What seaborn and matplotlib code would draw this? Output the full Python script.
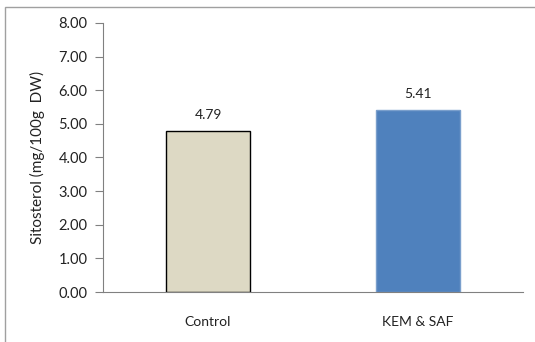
import matplotlib
matplotlib.use("Agg")
import matplotlib.pyplot as plt
import seaborn as sns
import pandas as pd
from matplotlib.patches import Rectangle

categories = ["Control", "KEM & SAF"]
values = [4.79, 5.41]
value_labels = ["4.79", "5.41"]
yticks = [0, 1, 2, 3, 4, 5, 6, 7, 8]
ytick_labels = ["0.00", "1.00", "2.00", "3.00", "4.00", "5.00", "6.00", "7.00", "8.00"]

sns.set_theme(style="white")
plt.rcParams["font.family"] = ["Lato", "DejaVu Sans"]

df = pd.DataFrame({"group": categories, "value": values})

fig = plt.figure(figsize=(5.35, 3.42), dpi=100)
ax = fig.add_axes([103 / 535, 1 - 292 / 342, 420 / 535, 269 / 342])

sns.barplot(data=df, x="group", y="value", ax=ax, width=0.4, saturation=1,
            palette=["#DDD9C4", "#4F81BD"], hue="group", legend=False)
edge_colors = ["#000000", "#7A9FCC"]
for patch, ec in zip(ax.patches, edge_colors):
    patch.set_edgecolor(ec)
    patch.set_linewidth(1.0)

for i, (v, lab) in enumerate(zip(values, value_labels)):
    ax.annotate(lab, (i, v), xytext=(0, 7), textcoords="offset points",
                ha="center", va="bottom", fontsize=10, color="#222222")

ax.set_ylim(0, 8)
ax.set_xlim(-0.5, 1.5)
ax.set_yticks(yticks)
ax.set_yticklabels(ytick_labels, fontsize=10.5, color="#222222")
ax.tick_params(axis="y", left=True, length=6, width=0.8, color="#808080", pad=5)
ax.tick_params(axis="x", bottom=False, pad=11, labelsize=10, labelcolor="#222222")
ax.set_xlabel("")
ax.set_ylabel("Sitosterol (mg/100g  DW)", fontsize=11, color="#222222", labelpad=10)

for side in ["top", "right"]:
    ax.spines[side].set_visible(False)
for side in ["left", "bottom"]:
    ax.spines[side].set_color("#808080")
    ax.spines[side].set_linewidth(0.8)

# chart area frame
fig.patches.append(Rectangle((5 / 535, -0.05), 1.0, 1 - 7 / 342 + 0.05,
                             transform=fig.transFigure, fill=False,
                             edgecolor="#A0A0A0", linewidth=1.0))

fig.savefig("out.png", dpi=100)
